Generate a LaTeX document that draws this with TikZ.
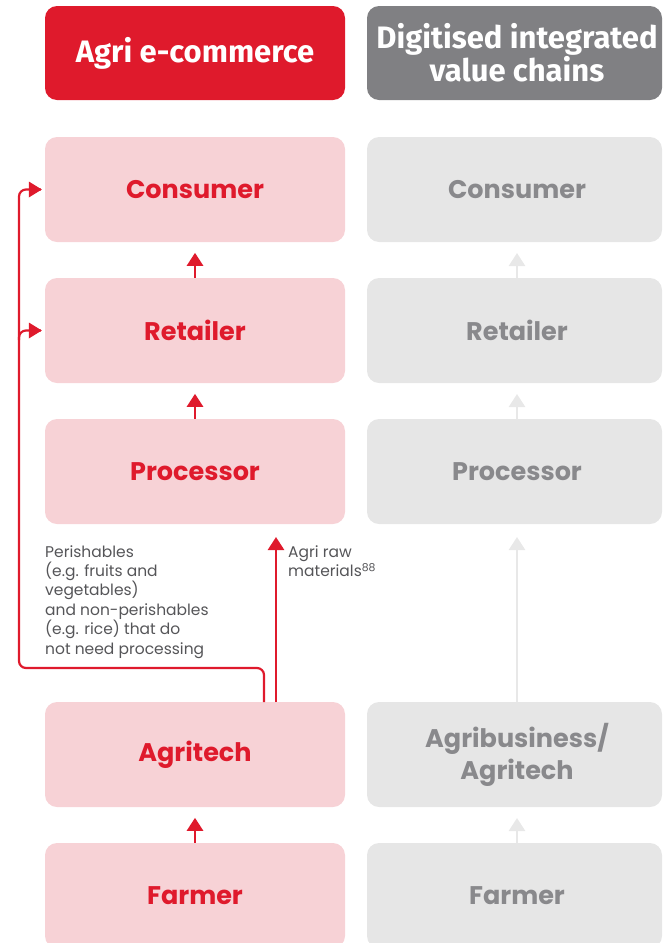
\documentclass[tikz,border=0pt]{standalone}
\usepackage{fontspec}
\setmainfont{Poppins}
\newfontfamily\headfont{Fira Sans}
\usetikzlibrary{arrows.meta}
\definecolor{agred}{HTML}{DF1A2C}
\definecolor{agpink}{HTML}{F7D2D6}
\definecolor{aggrayh}{HTML}{808083}
\definecolor{aggraybox}{HTML}{E6E6E6}
\definecolor{aggraytxt}{HTML}{89898C}
\definecolor{aglabel}{HTML}{555558}
\definecolor{aglight}{HTML}{E8E8E8}
\tikzset{
  x=1pt, y=-1pt,
  pinkbox/.style={rectangle, rounded corners=12pt, fill=agpink, minimum width=300pt, minimum height=105pt, inner sep=0pt, text=agred, font=\fontsize{25.5}{32}\selectfont\bfseries, align=center},
  graybox/.style={rectangle, rounded corners=12pt, fill=aggraybox, minimum width=295pt, minimum height=105pt, inner sep=0pt, text=aggraytxt, font=\fontsize{25.5}{32}\selectfont\bfseries, align=center},
  headred/.style={rectangle, rounded corners=12pt, fill=agred, minimum width=300pt, minimum height=94pt, inner sep=0pt, text=white, font=\headfont\fontsize{31}{31}\selectfont\bfseries, align=center},
  headgray/.style={rectangle, rounded corners=12pt, fill=aggrayh, minimum width=295pt, minimum height=94pt, inner sep=0pt, text=white, font=\headfont\fontsize{31}{31}\selectfont\bfseries, align=center},
  redarrow/.style={draw=agred, line width=2.7pt, -{Triangle[length=13pt,width=16pt]}},
  grayarrow/.style={draw=aglight, line width=2.7pt, -{Triangle[length=13pt,width=16pt]}},
  redline/.style={draw=agred, line width=2.2pt, rounded corners=7pt},
  lbl/.style={text=aglabel, font=\fontsize{15.5}{19.4}\selectfont, align=left, inner sep=0pt},
}
\begin{document}
\begin{tikzpicture}
\useasboundingbox (0,0) rectangle (662,943);
\clip (0,0) rectangle (662,943);
% headers
\node[headred] (h1) at (195,53) {Agri e-commerce};
\node[headgray] (h2) at (514.5,53) {\hspace*{5pt}Digitised integrated\\\hspace*{5pt}value chains};
% left column
\node[pinkbox] (c1) at (195,189.5) {Consumer};
\node[pinkbox] (r1) at (195,330.5) {Retailer};
\node[pinkbox] (p1) at (195,471.5) {Processor};
\node[pinkbox] (a1) at (195,754.5) {Agritech};
\node[pinkbox] (f1) at (195,895.5) {Farmer};
% right column
\node[graybox] (c2) at (514.5,189.5) {\hspace*{5pt}Consumer};
\node[graybox] (r2) at (514.5,330.5) {\hspace*{5pt}Retailer};
\node[graybox] (p2) at (514.5,471.5) {\hspace*{5pt}Processor};
\node[graybox] (a2) at (514.5,754.5) {\hspace*{5pt}Agribusiness/\\\hspace*{5pt}Agritech};
\node[graybox] (f2) at (514.5,895.5) {\hspace*{5pt}Farmer};
% short arrows left
\draw[redarrow] (r1.north) -- ++(0,-25);
\draw[redarrow] (p1.north) -- ++(0,-25);
\draw[redarrow] (f1.north) -- ++(0,-25);
% short arrows right
\coordinate (g1) at (517,278);
\coordinate (g2) at (517,419);
\coordinate (g3) at (517,843);
\coordinate (g4) at (517,702);
\draw[grayarrow] (g1) -- ++(0,-25);
\draw[grayarrow] (g2) -- ++(0,-25);
\draw[grayarrow] (g3) -- ++(0,-25);
% long arrows
\coordinate (ra) at (276,702);
\draw[redarrow] (ra) -- ++(0,-165);
\draw[grayarrow] (g4) -- ++(0,-165);
% left bypass connector
\coordinate (k1) at (264,702);
\coordinate (k2) at (264,668);
\coordinate (k3) at (19,668);
\coordinate (k4) at (19,189.5);
\draw[redline] (k1) -- (k2) -- (k3) -- (k4) -- ([xshift=-4pt]c1.west);
\draw[redline] (19,340) -- (19,330.5) -- ([xshift=-4pt]r1.west);
\draw[draw=none, fill=agred] (c1.west) ++(-3,0) -- ++(-13,-8) -- ++(0,16) -- cycle;
\draw[draw=none, fill=agred] (r1.west) ++(-3,0) -- ++(-13,-8) -- ++(0,16) -- cycle;
% labels
\node[lbl, anchor=north west] (t1) at (45,545) {Perishables\\(e.g. fruits and\\vegetables)\\and non-perishables\\(e.g. rice) that do\\not need processing};
\node[lbl, anchor=north west] (t2) at (288,545) {Agri raw\\materials\textsuperscript{88}};
\end{tikzpicture}
\end{document}
